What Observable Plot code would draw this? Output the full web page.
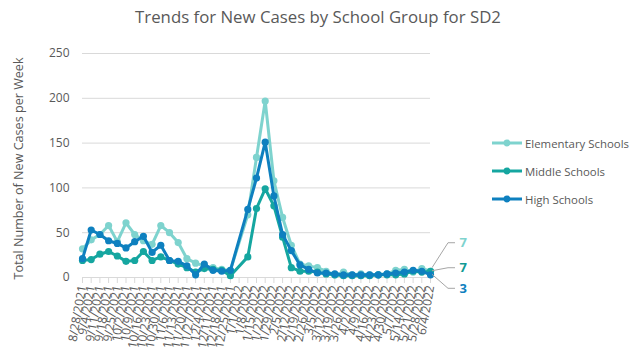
<!DOCTYPE html>
<html>
<head>
<meta charset="utf-8">
<script src="https://cdn.jsdelivr.net/npm/d3@7"></script>
<script src="https://cdn.jsdelivr.net/npm/@observablehq/plot@0.6"></script>
<style>
  html, body { margin: 0; padding: 0; background: #fff; }
  #wrap { position: relative; width: 643px; height: 354px; font-family: "Open Sans", sans-serif; color: #595959; }
  #title { position: absolute; left: 0; width: 636px; top: 5px; text-align: center; font-size: 16.8px; line-height: 24px; color: #595959; }
  .leg { position: absolute; left: 491px; height: 16px; display: flex; align-items: center; font-size: 11.4px; color: #595959; }
  .leg svg { margin-right: 3px; }
  #chart { position: absolute; left: 0; top: 0; }
</style>
</head>
<body>
<div id="wrap">
  <div id="chart"></div>
  <div id="title"></div>
  <div id="legend"></div>
</div>
<script>
const titleText = "Trends for New Cases by School Group for SD2";
const yAxisTitle = "Total Number of New Cases per Week";
const seriesNames = ["Elementary Schools", "Middle Schools", "High Schools"];
const seriesColors = ["#7ED3CE", "#15A6A0", "#0E80BF"];
const labelColors = ["#7ED3CE", "#119A95", "#0E80BF"];

const dates = ["8/28/2021","9/4/2021","9/11/2021","9/18/2021","9/25/2021","10/2/2021","10/9/2021","10/16/2021","10/23/2021","10/30/2021","11/6/2021","11/13/2021","11/20/2021","11/27/2021","12/4/2021","12/11/2021","12/18/2021","12/25/2021","1/1/2022","1/8/2022","1/15/2022","1/22/2022","1/29/2022","2/5/2022","2/12/2022","2/19/2022","2/26/2022","3/5/2022","3/12/2022","3/19/2022","3/26/2022","4/2/2022","4/9/2022","4/16/2022","4/23/2022","4/30/2022","5/7/2022","5/14/2022","5/21/2022","5/28/2022","6/4/2022"];

const elementary = [32, 42, 48, 58, 40, 61, 48, 41, 37, 58, 50, 39, 21, 16, 13, 11, 9, 8, null, 70, 134, 197, 108, 67, 36, 15, 13, 11, 7, 3, 6, 3, 4, 3, 3, 4, 8, 9, 6, 10, 7];
const middle     = [19, 20, 26, 29, 24, 18, 19, 29, 19, 23, 19, 15, 11, 6, 10, 9, 8, 2, null, 23, 77, 99, 80, 45, 11, 7, 7, 6, 4, 3, 2, 2, 2, 2, 3, 3, 3, 4, 7, 6, 7];
const high       = [21, 53, 48, 41, 38, 33, 40, 46, 28, 36, 19, 18, 13, 3, 15, 8, 7, 8, null, 76, 111, 151, 91, 48, 30, 14, 9, 5, 5, 4, 3, 3, 3, 3, 3, 4, 5, 6, 8, 7, 3];

const yTicks = [0, 50, 100, 150, 200, 250];

const parse = d3.utcParse("%m/%d/%Y");
const parsed = dates.map(parse);
const labelOf = new Map(parsed.map((d, i) => [+d, dates[i]]));
const allSeries = [elementary, middle, high];
const rowsOf = (vals, s) => vals.map((v, i) => ({date: parsed[i], value: v, series: seriesNames[s]})).filter(r => r.value != null);

// label offsets (pixels) for the end labels, relative to the last point
const labelDy = [-28, -3, 14];

const marks = [
  Plot.gridY(yTicks.filter(t => t > 0), {stroke: "#d9d9d9", strokeOpacity: 1}),
  Plot.ruleY([0], {stroke: "#d9d9d9"}),
  Plot.axisX({ticks: parsed, tickFormat: d => labelOf.get(+d), tickRotate: -80, tickSize: 6, tickPadding: 2, stroke: "#d9d9d9", fill: "#595959", fontSize: 12, label: null}),
  Plot.axisY({ticks: yTicks, tickSize: 0, tickPadding: 13, fill: "#595959", fontSize: 12, label: null}),
  Plot.text([yAxisTitle], {frameAnchor: "left", textAnchor: "middle", dx: -64, dy: 3, rotate: -90, fill: "#595959", fontSize: 12.6})
];
allSeries.forEach((vals, s) => {
  const rows = rowsOf(vals, s);
  marks.push(Plot.lineY(rows, {x: "date", y: "value", stroke: seriesColors[s], strokeWidth: 3, curve: "linear"}));
  marks.push(Plot.dot(rows, {x: "date", y: "value", r: 3.6, fill: seriesColors[s], stroke: "none"}));
});
// end labels
allSeries.forEach((vals, s) => {
  const last = rowsOf(vals, s).slice(-1);
  marks.push(Plot.text(last, {x: "date", y: "value", text: d => String(d.value), dx: 29, dy: labelDy[s], textAnchor: "start", fill: labelColors[s], fontWeight: "bold", fontSize: 13}));
});
// leader lines
marks.push((index, scales) => {
  const g = d3.create("svg:g").attr("fill", "none").attr("stroke", "#a6a6a6").attr("stroke-width", 1);
  allSeries.forEach((vals, s) => {
    const last = rowsOf(vals, s).slice(-1)[0];
    const x0 = scales.x(last.date), y0 = scales.y(last.value);
    const ty = y0 + labelDy[s];
    g.append("path").attr("d", `M${x0 + 2},${y0 + (s === 0 ? -3 : 0)}L${x0 + 18},${ty}L${x0 + 25},${ty}`);
  });
  return g.node();
});

const chart = Plot.plot({
  width: 643, height: 354,
  marginLeft: 82, marginRight: 213, marginTop: 53, marginBottom: 77,
  style: {fontFamily: "'Open Sans', sans-serif", color: "#595959", background: "white", overflow: "visible"},
  x: {type: "utc", domain: [parsed[0], parsed[parsed.length - 1]]},
  y: {domain: [0, 250]},
  marks
});
document.getElementById("chart").appendChild(chart);
document.getElementById("title").textContent = titleText;

const legend = document.getElementById("legend");
const legendTop = [135, 163, 191];
seriesNames.forEach((name, s) => {
  const div = document.createElement("div");
  div.className = "leg";
  div.style.top = legendTop[s] + "px";
  div.innerHTML = `<svg width="31" height="16"><line x1="1" x2="31" y1="8" y2="8" stroke="${seriesColors[s]}" stroke-width="3"/><circle cx="16" cy="8" r="3.4" fill="${seriesColors[s]}"/></svg><span>${name}</span>`;
  legend.appendChild(div);
});
</script>
</body>
</html>
